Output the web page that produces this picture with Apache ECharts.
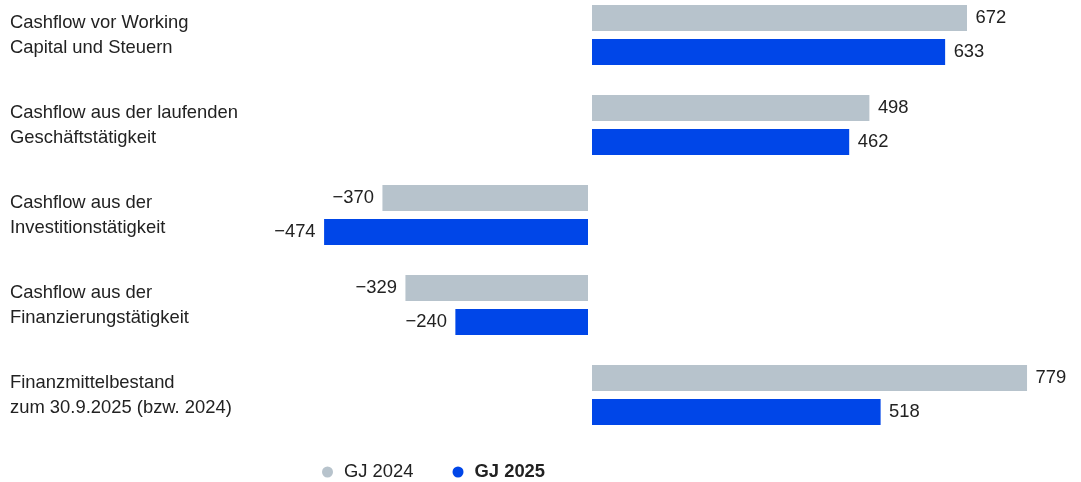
<!DOCTYPE html>
<html>
<head>
<meta charset="utf-8">
<style>
  html, body { margin: 0; padding: 0; background: #ffffff; }
  #chart { width: 1081px; height: 482px; }
</style>
<script src="https://cdn.jsdelivr.net/npm/echarts@6/dist/echarts.min.js"></script>
</head>
<body>
<div id="chart"></div>
<script>
// Cashflow overview, EUR million
const categories = [
  'Cashflow vor Working\nCapital und Steuern',
  'Cashflow aus der laufenden\nGeschäftstätigkeit',
  'Cashflow aus der\nInvestitionstätigkeit',
  'Cashflow aus der\nFinanzierungstätigkeit',
  'Finanzmittelbestand\nzum 30.9.2025 (bzw. 2024)'
];
const seriesNames = ['GJ 2024', 'GJ 2025'];
const values2024 = [672, 498, -370, -329, 779];
const values2025 = [633, 462, -474, -240, 518];

const colors = ['#b7c3cc', '#0046e8'];
const textColor = '#222222';
const fontFamily = '"Liberation Sans", Arial, sans-serif';
const fontSize = 18.4;

function fmt(v) {
  return v < 0 ? '\u2212' + Math.abs(v) : String(v);
}

function toData(vals) {
  return vals.map(v => ({
    value: v,
    label: { position: v < 0 ? 'left' : 'right' }
  }));
}

function makeSeries(name, vals, color, withZeroGap) {
  const s = {
    name: name,
    type: 'bar',
    data: toData(vals),
    barWidth: 26,
    barGap: '30.77%',
    itemStyle: { color: color },
    label: {
      show: true,
      distance: 8.5,
      color: textColor,
      fontSize: fontSize,
      fontFamily: fontFamily,
      formatter: p => fmt(p.value)
    },
    emphasis: { disabled: true }
  };
  if (withZeroGap) {
    // thin white gap separating positive and negative bars at zero
    s.markLine = {
      silent: true,
      symbol: 'none',
      z: 10,
      label: { show: false },
      lineStyle: { color: '#ffffff', width: 4, type: 'solid' },
      data: [{ xAxis: 0 }]
    };
  }
  return s;
}

const chart = echarts.init(document.getElementById('chart'), null, { renderer: 'canvas' });
chart.setOption({
  animation: false,
  backgroundColor: '#ffffff',
  textStyle: { fontFamily: fontFamily },
  legend: {
    data: seriesNames,
    left: 317,
    top: 458,
    icon: 'circle',
    itemWidth: 11,
    itemHeight: 11,
    itemGap: 39,
    textStyle: {
      fontSize: fontSize,
      color: textColor,
      fontFamily: fontFamily,
      padding: [0, 0, 0, 6],
      rich: {
        b: { fontSize: fontSize, fontWeight: 'bold', color: textColor, fontFamily: fontFamily }
      }
    },
    formatter: name => name === 'GJ 2025' ? '{b|' + name + '}' : name,
    selectedMode: false
  },
  grid: {
    left: 29,
    width: 1054.7,
    top: -10,
    height: 450,
    containLabel: false,
    outerBoundsMode: 'none'
  },
  xAxis: {
    type: 'value',
    min: -1000,
    max: 880,
    show: false
  },
  yAxis: {
    type: 'category',
    data: categories,
    inverse: true,
    axisLine: { show: false },
    axisTick: { show: false },
    splitLine: { show: false },
    axisLabel: {
      align: 'left',
      margin: 19,
      fontSize: fontSize,
      lineHeight: 25,
      padding: [3, 0, 0, 0],
      color: textColor,
      fontFamily: fontFamily
    }
  },
  series: [
    makeSeries(seriesNames[0], values2024, colors[0], false),
    makeSeries(seriesNames[1], values2025, colors[1], true)
  ]
});
</script>
</body>
</html>
